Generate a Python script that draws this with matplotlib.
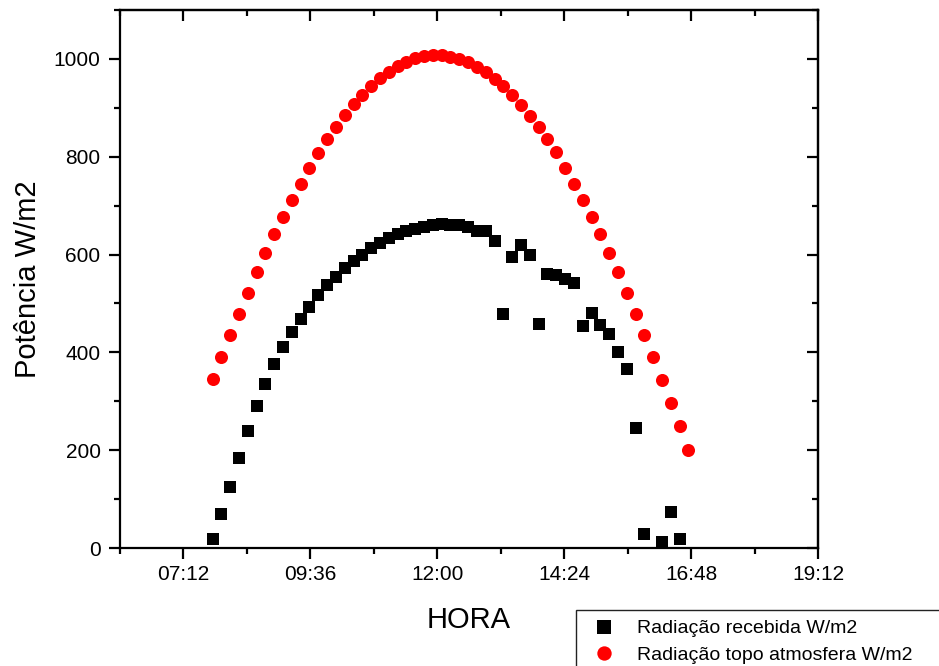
import matplotlib
matplotlib.use('Agg')
import matplotlib.pyplot as plt
from matplotlib.patches import Rectangle
from matplotlib.ticker import MultipleLocator, FuncFormatter

plt.rcParams['font.family'] = ['Liberation Sans', 'DejaVu Sans']

# measured irradiance (W/m2)
recebida_hora = ['07:45', '07:55', '08:05', '08:15', '08:25', '08:35', '08:45', '08:55',
                 '09:05', '09:15', '09:25', '09:35', '09:45', '09:55', '10:05', '10:15',
                 '10:25', '10:35', '10:45', '10:55', '11:05', '11:15', '11:25', '11:35',
                 '11:45', '11:55', '12:05', '12:15', '12:25', '12:35', '12:45', '12:55',
                 '13:05', '13:15', '13:25', '13:35', '13:45', '13:55', '14:05', '14:15',
                 '14:25', '14:35', '14:45', '14:55', '15:05', '15:15', '15:25', '15:35',
                 '15:45', '15:55', '16:15', '16:25', '16:35']
recebida = [18, 69, 125, 184, 239, 290, 335, 376,
            410, 442, 468, 492, 517, 537, 554, 573,
            586, 600, 614, 624, 634, 642, 648, 653,
            657, 660, 662, 661, 660, 657, 649, 649,
            627, 478, 595, 620, 599, 458, 561, 559,
            550, 541, 453, 480, 455, 437, 400, 367,
            245, 28, 13, 74, 18]

# top of atmosphere irradiance (W/m2)
topo_hora = ['07:45', '07:55', '08:05', '08:15', '08:25', '08:35', '08:45', '08:55',
             '09:05', '09:15', '09:25', '09:35', '09:45', '09:55', '10:05', '10:15',
             '10:25', '10:35', '10:45', '10:55', '11:05', '11:15', '11:25', '11:35',
             '11:45', '11:55', '12:05', '12:15', '12:25', '12:35', '12:45', '12:55',
             '13:05', '13:15', '13:25', '13:35', '13:45', '13:55', '14:05', '14:15',
             '14:25', '14:35', '14:45', '14:55', '15:05', '15:15', '15:25', '15:35',
             '15:45', '15:55', '16:05', '16:15', '16:25', '16:35', '16:45']
topo = [345, 390, 435, 479, 521, 564, 603, 641,
        677, 712, 744, 776, 807, 836, 861, 885,
        907, 926, 945, 960, 973, 986, 994, 1001,
        1006, 1009, 1009, 1003, 999, 993, 984, 973,
        959, 944, 926, 906, 884, 860, 836, 809,
        776, 744, 712, 677, 641, 603, 564, 521,
        479, 435, 390, 344, 297, 250, 200]


def to_day(h):
    # 'HH:MM' -> fraction of day
    hh, mm = h.split(':')
    return (int(hh) * 60 + int(mm)) / 1440.0


def day_fmt(v, pos):
    m = int(round(v * 1440))
    return '%02d:%02d' % (m // 60, m % 60)


x_rec = [to_day(h) for h in recebida_hora]
x_topo = [to_day(h) for h in topo_hora]

fig = plt.figure(figsize=(9.39, 6.66), dpi=100)
ax = fig.add_axes([120 / 939, 1 - 548 / 666, 698 / 939, 538 / 666])

ax.plot(x_rec, recebida, 's', color='black', markersize=8.9, markeredgewidth=0,
        label='Radiação recebida W/m2')
ax.plot(x_topo, topo, 'o', color='red', markersize=9.4, markeredgewidth=0,
        label='Radiação topo atmosfera W/m2')

ax.set_xlim(0.25, 0.8)
ax.set_ylim(0, 1100)
ax.xaxis.set_major_locator(MultipleLocator(0.1))
ax.xaxis.set_minor_locator(MultipleLocator(0.05))
ax.xaxis.set_major_formatter(FuncFormatter(day_fmt))
ax.yaxis.set_major_locator(MultipleLocator(200))
ax.yaxis.set_minor_locator(MultipleLocator(100))

for s in ax.spines.values():
    s.set_linewidth(1.6)
ax.tick_params(which='both', width=1.6, labelsize=15)
ax.tick_params(which='major', length=8)
ax.tick_params(which='minor', length=4.5)
ax.tick_params(axis='x', which='both', direction='out', pad=4)
ax.tick_params(axis='y', which='both', direction='out', pad=6)
ax2x = ax.secondary_xaxis('top')
ax2x.xaxis.set_major_locator(MultipleLocator(0.1))
ax2x.xaxis.set_minor_locator(MultipleLocator(0.05))
ax2x.tick_params(which='both', direction='in', width=1.6, labeltop=False)
ax2x.tick_params(which='major', length=8)
ax2x.tick_params(which='minor', length=4.5)
ax2x.spines['top'].set_linewidth(1.6)
ax2y = ax.secondary_yaxis('right')
ax2y.yaxis.set_major_locator(MultipleLocator(200))
ax2y.yaxis.set_minor_locator(MultipleLocator(100))
ax2y.tick_params(which='both', direction='in', width=1.6, labelright=False)
ax2y.tick_params(which='major', length=8)
ax2y.tick_params(which='minor', length=4.5)
ax2y.spines['right'].set_linewidth(1.6)

ax.set_xlabel('HORA', fontsize=21)
ax.set_ylabel('Potência W/m2', fontsize=21)
ax.xaxis.set_label_coords(0.5, -0.108)
ax.yaxis.set_label_coords(-0.112, 0.5)

# legend box runs off the lower right corner
fig.add_artist(Rectangle((576 / 939, -0.1), 0.5, 0.1 + 56 / 666, transform=fig.transFigure,
                         facecolor='white', edgecolor='#222222', linewidth=1.0, clip_on=False))
fig.legend(loc='upper left', bbox_to_anchor=(576 / 939, 1 - 610 / 666), frameon=False,
           fontsize=14, borderpad=0.5, borderaxespad=0, handlelength=1.88,
           handletextpad=0.75, labelspacing=0.46, markerscale=1.1)

fig.savefig('out.png', dpi=100)
